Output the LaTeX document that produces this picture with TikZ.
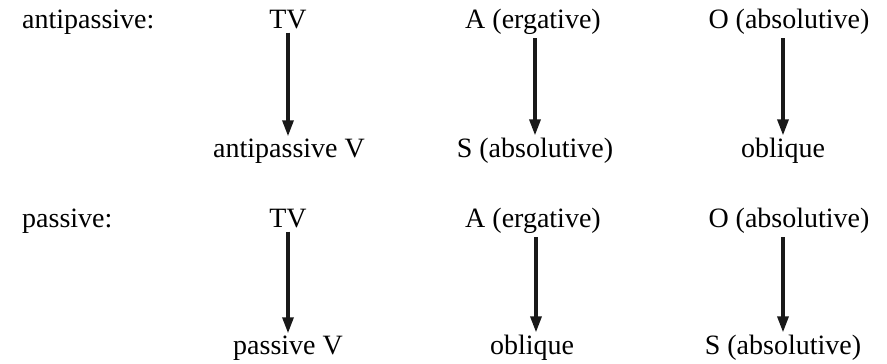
\documentclass[tikz,border=0pt]{standalone}
\usepackage{fontspec}
\setmainfont{Liberation Serif}
\usetikzlibrary{arrows.meta}
\begin{document}
\begin{tikzpicture}[x=1pt,y=1pt,
  lbl/.style={anchor=base, inner sep=3pt, font=\fontsize{28}{32}\selectfont, text=black},
  hdr/.style={anchor=base west, inner sep=0pt, font=\fontsize{28}{32}\selectfont, text=black},
  arr/.style={line width=3.2pt, draw=black!90, -{Triangle[length=16pt,width=11pt]}}]
\useasboundingbox (0,0) rectangle (887,364);
% row 1
\node[hdr] (h1) at (22,335) {antipassive:};
\node[lbl] (t1) at (288,335) {TV};
\node[lbl] (t2) at (533,335) {A (ergative)};
\node[lbl] (t3) at (789,335) {O (absolutive)};
\node[lbl] (b1) at (289,206) {antipassive V};
\node[lbl] (b2) at (535,206) {S (absolutive)};
\node[lbl] (b3) at (783,206) {oblique};
\draw[arr] (t1.south) -- (t1.south |- b1.north);
\draw[arr] (t2.south -| b2.north) -- (b2.north);
\draw[arr] (t3.south -| b3.north) -- (b3.north);
% row 2
\node[hdr] (h2) at (22,136) {passive:};
\node[lbl] (u1) at (288,136) {TV};
\node[lbl] (u2) at (533,136) {A (ergative)};
\node[lbl] (u3) at (789,136) {O (absolutive)};
\node[lbl] (c1) at (288,9) {passive V};
\node[lbl] (c2) at (532,9) {oblique};
\node[lbl] (c3) at (783,9) {S (absolutive)};
\draw[arr] (u1.south) -- (u1.south |- c1.north);
\draw[arr] (u2.south -| 536,0) -- (c2.north -| 536,0);
\draw[arr] (u3.south -| c3.north) -- (c3.north);
\end{tikzpicture}
\end{document}
